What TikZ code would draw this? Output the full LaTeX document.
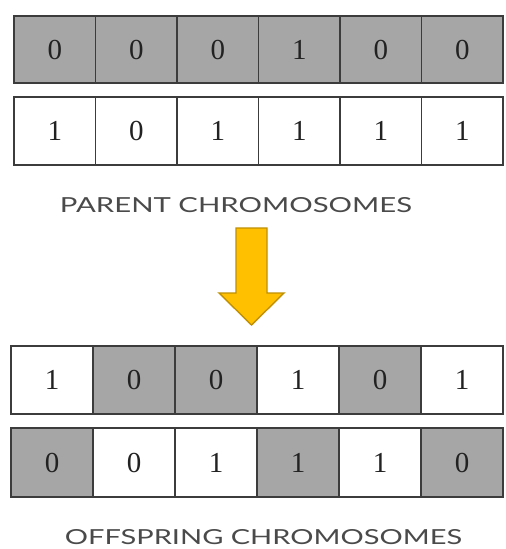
\documentclass[tikz,border=0pt]{standalone}
\usepackage{fontspec}
\usepackage{graphicx}
\setmainfont{Liberation Serif}
\newfontfamily\labelfont{Lato}
\definecolor{cellgrey}{HTML}{A6A6A6}
\definecolor{cellline}{HTML}{3C3C3C}
\definecolor{arrowfill}{HTML}{FFC000}
\definecolor{arrowline}{HTML}{BF9000}
\definecolor{labelgrey}{HTML}{4A4A4A}
\definecolor{digitgrey}{HTML}{222222}
\tikzset{
  cell/.style={rectangle, draw=cellline, line width=1.8pt, inner sep=0pt,
    outer sep=0pt, anchor=north west, text=digitgrey,
    font=\fontsize{29}{29}\selectfont},
  caption/.style={inner sep=0pt, text=labelgrey, font=\labelfont},
  bigarrow/.style={fill=arrowfill, draw=arrowline, line width=1.4pt, line join=miter}
}
\begin{document}
\begin{tikzpicture}[x=1pt,y=-1pt]
  \fill[white] (0,0) rectangle (506,549);
  \useasboundingbox (0,0) rectangle (506,549);

  % parent chromosomes
  \foreach \v/\f [count=\i] in {0/cellgrey,0/cellgrey,0/cellgrey,1/cellgrey,0/cellgrey,0/cellgrey}
    \node[cell, fill=\f, minimum width=81.5pt, minimum height=67pt]
      (pa-\i) at ({14+(\i-1)*81.5},16) {\raisebox{-3.5pt}{\v}};
  \foreach \v/\f [count=\i] in {1/white,0/white,1/white,1/white,1/white,1/white}
    \node[cell, fill=\f, minimum width=81.5pt, minimum height=68pt]
      (pb-\i) at ({14+(\i-1)*81.5},97) {\raisebox{-3.5pt}{\v}};

  \node[caption] (parentlabel) at (236,205.5)
    {\resizebox{352pt}{15pt}{PARENT CHROMOSOMES}};

  % crossover arrow
  \draw[bigarrow] (236,228) -- (267,228) -- (267,293) -- (284,293)
    -- (251.5,325) -- (219,293) -- (236,293) -- cycle;

  % offspring chromosomes
  \foreach \v/\f [count=\i] in {1/white,0/cellgrey,0/cellgrey,1/white,0/cellgrey,1/white}
    \node[cell, fill=\f, minimum width=82pt, minimum height=68pt]
      (oa-\i) at ({11+(\i-1)*82},346) {\raisebox{-3.5pt}{\v}};
  \foreach \v/\f [count=\i] in {0/cellgrey,0/white,1/white,1/cellgrey,1/white,0/cellgrey}
    \node[cell, fill=\f, minimum width=82pt, minimum height=69pt]
      (ob-\i) at ({11+(\i-1)*82},428) {\raisebox{-3.5pt}{\v}};

  \node[caption] (offspringlabel) at (263.5,537.5)
    {\resizebox{397pt}{15pt}{OFFSPRING CHROMOSOMES}};
\end{tikzpicture}
\end{document}
